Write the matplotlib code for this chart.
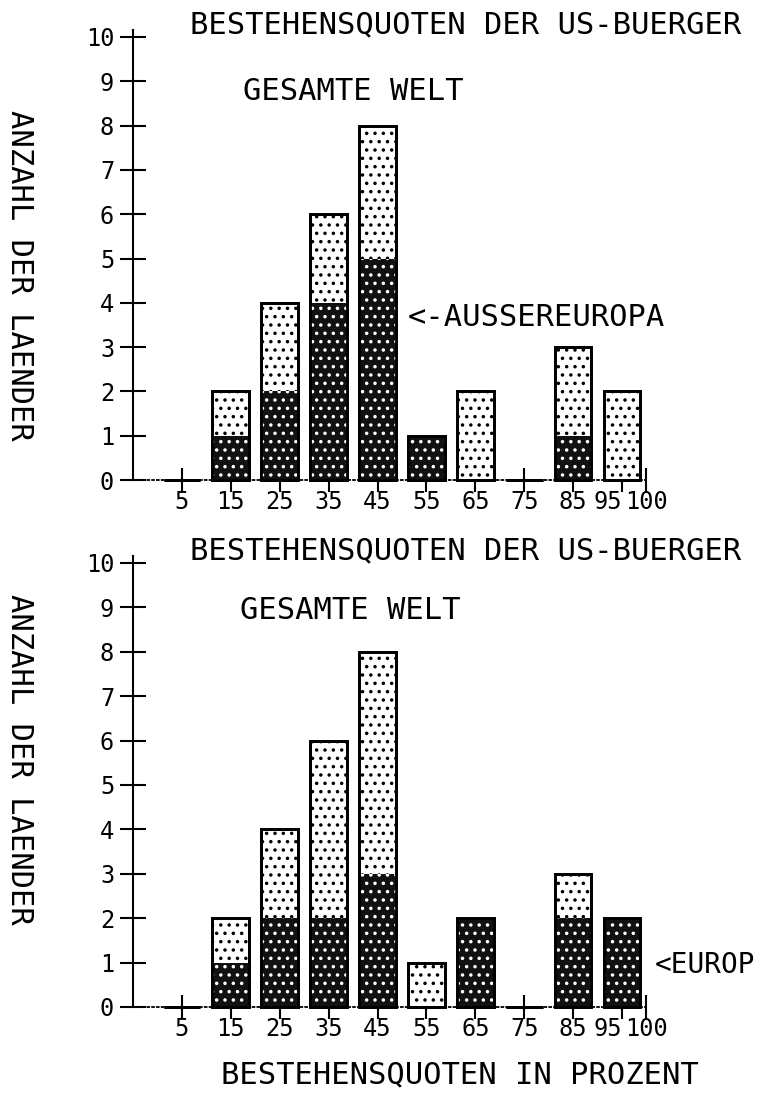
import matplotlib.pyplot as plt

# bin centres (percent) and counts per bin
bins = [5, 15, 25, 35, 45, 55, 65, 75, 85, 95]
gesamt = [0, 2, 4, 6, 8, 1, 2, 0, 3, 2]
aussereuropa = [0, 1, 2, 4, 5, 1, 0, 0, 1, 0]
europa = [0, 1, 2, 2, 3, 0, 2, 0, 2, 2]

xtick_pos = bins + [100]
xtick_labels = [str(b) for b in bins] + ["100"]
yticks = list(range(0, 11))

title = "BESTEHENSQUOTEN DER US-BUERGER"
ylabel = "ANZAHL DER LAENDER"
xlabel = "BESTEHENSQUOTEN IN PROZENT"

plt.rcParams["font.family"] = ["DejaVu Sans Mono"]
plt.rcParams["hatch.linewidth"] = 1.3

W = 7.5  # bar width in percent units
BIG = 22


def panel(ax, part, note, note_xy, welt_xy, note_size=BIG):
    # total bars: white with dotted fill
    ax.bar(bins, gesamt, width=W, facecolor="white", edgecolor="black",
           hatch="..", linewidth=2, zorder=2, clip_on=False)
    # regional share: dark fill
    ax.bar(bins, part, width=W, facecolor="#111111", edgecolor="white",
           hatch="..", linewidth=0, zorder=3, clip_on=False)
    ax.bar(bins, gesamt, width=W, fill=False, edgecolor="black",
           linewidth=2, zorder=4, clip_on=False)

    ax.set_xlim(-5, 104)
    ax.set_ylim(0, 10.4)
    ax.set_yticks(yticks)
    ax.set_xticks(xtick_pos)
    ax.set_xticklabels(xtick_labels)
    ax.get_xticklabels()[-2].set_horizontalalignment("right")

    ax.tick_params(axis="y", direction="inout", length=19, width=1.5,
                   labelsize=17, pad=4)
    ax.tick_params(axis="x", direction="inout", length=17, width=1.5,
                   labelsize=17, pad=-1)

    for s in ["top", "right"]:
        ax.spines[s].set_visible(False)
    ax.spines["left"].set_linewidth(1.5)
    ax.spines["left"].set_bounds(0, 10.15)
    ax.spines["bottom"].set_linestyle(":")
    ax.spines["bottom"].set_linewidth(1.3)
    ax.spines["bottom"].set_bounds(-5, 100)

    ax.text(6.6, 10.27, title, fontsize=BIG, va="center", ha="left",
            clip_on=False)
    ax.text(welt_xy[0], welt_xy[1], "GESAMTE WELT", fontsize=BIG,
            va="center", ha="left")
    ax.text(note_xy[0], note_xy[1], note, fontsize=note_size, va="center",
            ha="left", clip_on=False)


fig = plt.figure(figsize=(7.63, 11.01), dpi=100)
ax1 = fig.add_axes([0.1743, 0.5640, 0.6986, 0.4185])
ax2 = fig.add_axes([0.1743, 0.0854, 0.6986, 0.4194])

panel(ax1, aussereuropa, "<-AUSSEREUROPA", (51.2, 3.66), (17.5, 8.76))
panel(ax2, europa, "<EUROP", (101.6, 0.95), (16.9, 8.94), note_size=20)

fig.text(0.026, 0.75, ylabel, rotation=270, fontsize=BIG,
         ha="center", va="center")
fig.text(0.026, 0.31, ylabel, rotation=270, fontsize=BIG,
         ha="center", va="center")
fig.text(460 / 763, 1 - 1075 / 1101, xlabel, fontsize=BIG,
         ha="center", va="center")

plt.savefig("out.png", dpi=100)
